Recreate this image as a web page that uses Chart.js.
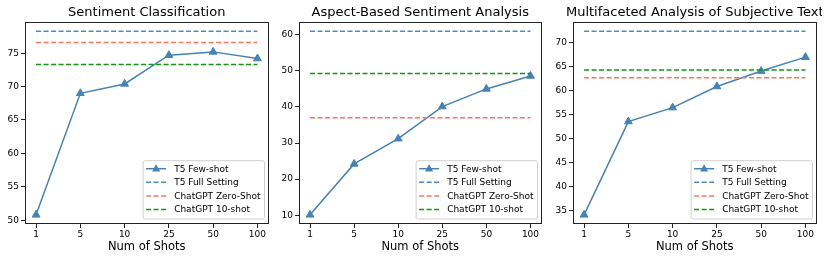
<!DOCTYPE html>
<html>
<head>
<meta charset="utf-8">
<script src="https://cdn.jsdelivr.net/npm/chart.js@4.4.0/dist/chart.umd.min.js"></script>
<style>
  html, body { margin: 0; padding: 0; background: #fff; overflow: hidden; }
  #wrap { position: relative; width: 830px; height: 260px; }
  .panel { position: absolute; top: 0; height: 260px; }
</style>
</head>
<body>
<div id="wrap">
  <div class="panel" style="left:0px;width:274px"><canvas id="c1"></canvas></div>
  <div class="panel" style="left:275px;width:272px"><canvas id="c2"></canvas></div>
  <div class="panel" style="left:549px;width:273px"><canvas id="c3"></canvas></div>
</div>
<script>
// x categories
const shots = ['1', '5', '10', '25', '50', '100'];

// Sentiment Classification
const sentFew = [50.8, 69.0, 70.4, 74.7, 75.2, 74.2];
const sentFull = 78.3;
const sentZero = 76.6;
const sentTen = 73.3;
const sentTicks = [50, 55, 60, 65, 70, 75];

// Aspect-Based Sentiment Analysis
const absaFew = [10.1, 24.2, 31.2, 40.1, 45.0, 48.6];
const absaFull = 61.0;
const absaZero = 37.0;
const absaTen = 49.3;
const absaTicks = [10, 20, 30, 40, 50, 60];

// Multifaceted Analysis of Subjective Text
const mastFew = [34.1, 53.5, 56.4, 60.8, 64.0, 66.9];
const mastFull = 72.3;
const mastZero = 62.6;
const mastTen = 64.2;
const mastTicks = [35, 40, 45, 50, 55, 60, 65, 70];

const FONT = '"DejaVu Sans", sans-serif';
const cFew = '#4682b4';
const cFull = '#4f87c2';
const cZero = '#f9765f';
const cTen = '#139413';

// frame, title and legend drawn over the plot area
const decor = {
  id: 'decor',
  afterDraw(chart, args, opts) {
    const ctx = chart.ctx;
    const a = chart.chartArea;
    ctx.save();
    // frame
    ctx.strokeStyle = '#222';
    ctx.lineWidth = 1;
    ctx.strokeRect(Math.round(a.left) + 0.5, Math.round(a.top) + 0.5,
      Math.round(a.right - a.left) - 1, Math.round(a.bottom - a.top) - 1);
    // title
    ctx.fillStyle = '#000';
    ctx.font = '13px ' + FONT;
    ctx.textAlign = 'center';
    ctx.textBaseline = 'middle';
    ctx.fillText(opts.title, (a.left + a.right) / 2, 12.5);
    // legend
    ctx.font = '9px ' + FONT;
    const sets = chart.data.datasets;
    let tw = 0;
    sets.forEach(d => { tw = Math.max(tw, ctx.measureText(d.label).width); });
    const w = 3 + 20 + 8 + tw + 4;
    const rowH = 13.6;
    const h = 8 + rowH * (sets.length - 1) + 9.5;
    const x0 = a.right - 4 - w;
    const y0 = a.bottom - 5 - h;
    ctx.beginPath();
    ctx.roundRect(x0, y0, w, h, 2);
    ctx.fillStyle = 'rgba(255,255,255,0.85)';
    ctx.fill();
    ctx.strokeStyle = '#d0d0d0';
    ctx.lineWidth = 1;
    ctx.stroke();
    sets.forEach((d, i) => {
      const cy = y0 + 8 + i * rowH;
      const hx = x0 + 3;
      ctx.strokeStyle = d.borderColor;
      ctx.lineWidth = 1.5;
      ctx.setLineDash(d.borderDash || []);
      ctx.beginPath();
      ctx.moveTo(hx, cy);
      ctx.lineTo(hx + 20, cy);
      ctx.stroke();
      ctx.setLineDash([]);
      if (d.pointStyle === 'triangle') {
        const r = 4.5;
        const mx = hx + 10;
        ctx.fillStyle = d.backgroundColor;
        ctx.beginPath();
        ctx.moveTo(mx, cy - r);
        ctx.lineTo(mx + r * 0.9, cy + r * 0.6);
        ctx.lineTo(mx - r * 0.9, cy + r * 0.6);
        ctx.closePath();
        ctx.fill();
      }
      ctx.fillStyle = '#000';
      ctx.textAlign = 'left';
      ctx.textBaseline = 'middle';
      ctx.fillText(d.label, hx + 28, cy + 0.5);
    });
    ctx.restore();
  }
};

function hline(label, v, color, order) {
  return {
    label: label,
    data: [{ x: 0, y: v }, { x: shots.length - 1, y: v }],
    borderColor: color,
    borderWidth: 1.5,
    borderDash: [5, 2.5],
    pointRadius: 0,
    order: order
  };
}

function makeChart(id, title, few, full, zero, ten, ticks, yWidth) {
  const all = few.concat([full, zero, ten]);
  const lo = Math.min.apply(null, all);
  const hi = Math.max.apply(null, all);
  const pad = (hi - lo) * 0.05;
  return new Chart(document.getElementById(id), {
    type: 'line',
    data: {
      datasets: [
        {
          label: 'T5 Few-shot',
          data: few.map((v, i) => ({ x: i, y: v })),
          borderColor: cFew,
          backgroundColor: cFew,
          borderWidth: 1.5,
          pointStyle: 'triangle',
          pointRadius: 4.5,
          pointBorderWidth: 1,
          order: 4
        },
        hline('T5 Full Setting', full, cFull, 3),
        hline('ChatGPT Zero-Shot', zero, cZero, 2),
        hline('ChatGPT 10-shot', ten, cTen, 1)
      ]
    },
    options: {
      responsive: true,
      maintainAspectRatio: false,
      animation: false,
      layout: { padding: { top: 22, right: 1, left: 0, bottom: 0 } },
      plugins: {
        legend: { display: false },
        tooltip: { enabled: false },
        decor: { title: title }
      },
      scales: {
        x: {
          type: 'linear',
          min: -0.25,
          max: shots.length - 0.75,
          border: { display: false },
          grid: { drawOnChartArea: false, drawTicks: true, tickLength: 4, tickColor: '#222' },
          afterBuildTicks: s => { s.ticks = shots.map((t, i) => ({ value: i })); },
          afterFit: s => { s.height = 36; },
          ticks: {
            padding: 1,
            maxRotation: 0,
            color: '#000',
            font: { family: FONT, size: 9 },
            callback: v => shots[v]
          },
          title: {
            display: true,
            text: 'Num of Shots',
            color: '#000',
            font: { family: FONT, size: 11.5 },
            padding: { top: 0, bottom: 6 }
          }
        },
        y: {
          min: lo - pad,
          max: hi + pad,
          border: { display: false },
          grid: { drawOnChartArea: false, drawTicks: true, tickLength: 4, tickColor: '#222' },
          afterBuildTicks: s => { s.ticks = ticks.map(v => ({ value: v })); },
          afterFit: s => { s.width = yWidth; },
          ticks: {
            padding: 2,
            color: '#000',
            font: { family: FONT, size: 9 }
          }
        }
      }
    },
    plugins: [decor]
  });
}

makeChart('c1', 'Sentiment Classification', sentFew, sentFull, sentZero, sentTen, sentTicks, 25);
makeChart('c2', 'Aspect-Based Sentiment Analysis', absaFew, absaFull, absaZero, absaTen, absaTicks, 24);
makeChart('c3', 'Multifaceted Analysis of Subjective Text', mastFew, mastFull, mastZero, mastTen, mastTicks, 24);
</script>
</body>
</html>
